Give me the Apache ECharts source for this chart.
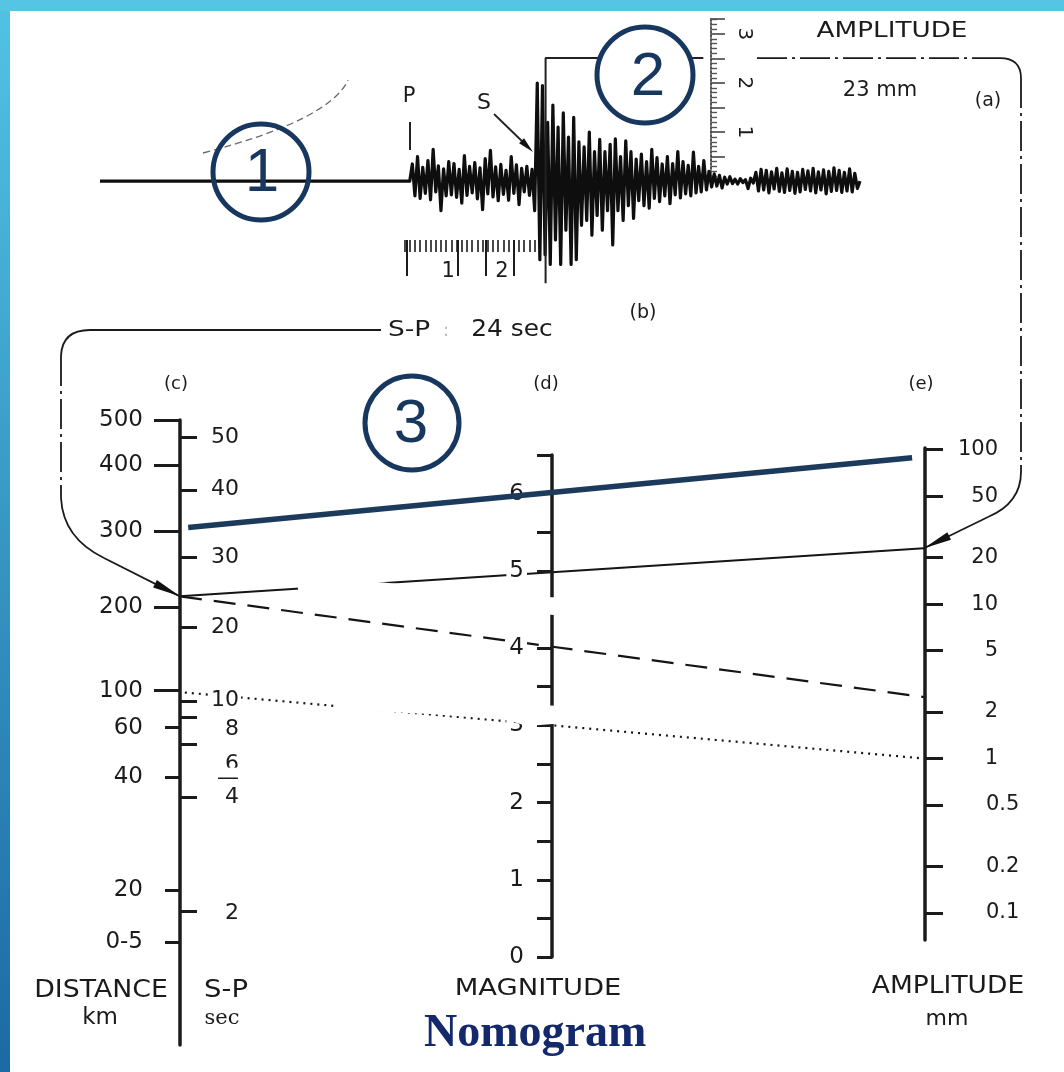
<!DOCTYPE html>
<html>
<head>
<meta charset="utf-8">
<script src="https://cdn.jsdelivr.net/npm/echarts@6/dist/echarts.min.js"></script>
<style>
html,body{margin:0;padding:0;background:#ffffff;}
#chart{width:1064px;height:1072px;}
</style>
</head>
<body>
<div id="chart"></div>
<script>
// ================= DATA =================
// (c) distance scale: labels and their Richter correction values (-log A0)
const distanceLabels = ['500','400','300','200','100','60','40','20','0-5'];
const distanceValues = [4.76, 4.47, 4.04, 3.55, 3.01, 2.77, 2.45, 1.72, 1.38];
const distanceLongTicks = [4.76, 4.47, 4.04, 3.55, 3.01];
const distanceShortTicks = [2.77, 2.45, 1.72, 1.38];
// S-P seconds written on the same axis
const spTickValues = [4.65, 4.31, 3.87, 3.42, 2.94, 2.84, 2.66, 2.32, 1.58];
const spLabels = ['50','40','30','20','10','8','6','\u2014','4','2'];
const spLabelValues = [4.65, 4.31, 3.87, 3.42, 2.95, 2.76, 2.53, 2.44, 2.32, 1.57];
// (d) magnitude scale
const magnitudeMin = 0, magnitudeMax = 6.5, magnitudeStep = 0.5;
const magnitudeLabels = [0, 1, 2, 3, 4, 5, 6];
// (e) amplitude scale, mm
const amplitudeIntTicks = [100, 50, 20, 10, 5, 2, 1];
const amplitudeDecTicks = [0.5, 0.2, 0.1];
// nomogram reading lines: correction value on (c) and amplitude on (e)
const lineDistance = [4.06, 3.62, 3.62, 3.00];
const lineAmplitude = [90, 23, 2.5, 1.0];
// (b) seismogram: trace offset in mm, one value every 0.5 s after P arrival
const traceStep = 0.5;
const traceStart = -59.5;
const traceValues = [
  0, 3.5, -3, 5, -3.5,
  2.8,-2.5,4.2,-3.8,6.5,-2.2,3.1,-6.0,2.5,-3.0,4.0,-2.8,3.6,-3.3,2.4,-4.5,5.2,-2.9,3.0,-2.4,3.8,-3.6,2.7,-5.8,4.6,-2.6,6.3,-3.2,2.9,-4.0,3.4,-2.7,2.2,-3.9,5.0,-2.5,3.3,-4.8,2.6,-2.2,3.0,-2.9,2.4,
  -6,20,-16,19.5,-15,12,-17,15.5,-12,11,-17,13.9,-10,9,-17,13,-16,8,-9,7,-8,10,-11,6,-7,8.5,-10,6,-6,7.5,-13,8.6,-6,5,-8,8.2,-5,6,-7.6,4.5,-4,5.5,-5,4,-5.5,6.5,-3.5,4.8,-4.2,3.5,-3,5,-4.6,3.6,-2.8,6,-3.4,4,-2.6,3.2,-3,5.9,-2.4,3,-2.2,4.2,-1.8,2,-1.2,1.5,-1,1.2,-1.4,0.8,-0.6,0.9,-0.5,0.4,-0.6,0.5,-0.3,0.3,-1.5,0.6,-0.4,1.8,-2,2.4,
  -1.8,2.2,-2.4,1.9,-1.6,2.6,-2.1,1.7,-2.3,2.5,-1.9,2.0,-2.5,1.8,-2.2,2.4,-1.7,2.1,-2.0,2.6,-2.4,1.9,-1.8,2.3,-2.6,2.0,-2.1,2.7,-1.9,2.2,-2.3,1.8,-2.0,2.5,-2.2,1.6,-1.5,0
];
// amplitude marker on the seismogram (s, mm)
const markerTime = 26.1, markerLow = -20.8, markerHigh = 25.1, markerEnd = 56.4;
// time ruler under the trace (s after P)
const timeRulerFrom = -1, timeRulerTo = 25;
const timeLongTicks = [-0.5, 9.3, 14.7, 19.9];
const timeLabelValues = [7.4, 17.7];
const timeLabels = ['1', '2'];
// amplitude ruler (mm) labelled in cm
const rulerLabelValues = [10, 20, 30];
const rulerLabels = ['1', '2', '3'];

// ================= SCALES / LAYOUT =================
const W = 1064, H = 1072;
const K = 2.57;               // nomogram constant: M = C + log A
const PX_PER_MAG = 77.23, MAG_ZERO_Y = 957;
const pxToMag = px => (MAG_ZERO_Y - px) / PX_PER_MAG;
const distToMag = c => 2 * c - K;
const ampToMag = a => 2 * Math.log10(a) + K;
const magToDist = m => (m + K) / 2;
const magToAmp = m => Math.pow(10, (m - K) / 2);
const DIST_TOP = 420, DIST_BOTTOM = 1045, AMP_TOP = 448, AMP_BOTTOM = 940;
const distMax = magToDist(pxToMag(DIST_TOP)), distMin = magToDist(pxToMag(DIST_BOTTOM));
const ampMax = magToAmp(pxToMag(AMP_TOP)), ampMin = magToAmp(pxToMag(AMP_BOTTOM));
const MAG_TOP = MAG_ZERO_Y - magnitudeMax * PX_PER_MAG;
const OVX = 6, OVY = 8; // overlay axes indices

function nearest(values, labels) {
  return function (v) {
    let bi = 0, bd = Infinity;
    values.forEach((x, i) => { const d = Math.abs(x - v); if (d < bd) { bd = d; bi = i; } });
    return labels[bi];
  };
}
const timeMinor = [];
for (let t = timeRulerFrom; t <= timeRulerTo; t++) timeMinor.push(t);
const magTicks = [];
for (let m = magnitudeMin; m <= magnitudeMax + 1e-9; m += magnitudeStep) magTicks.push(+m.toFixed(2));

const INK = '#1b1b1b';
const FONT = 'DejaVu Sans';
const axisLineStyle = { color: INK, width: 3.5 };
const tickStyle = { color: INK, width: 3 };

const traceData = [[traceStart, 0]].concat(traceValues.map((v, i) => [i * traceStep, v]));

const lineStyles = [
  { color: '#1c3a5b', width: 5.5, type: 'solid', from: 0.022, to: 1.968, z: 6 },
  { color: '#151515', width: 2, type: 'solid', from: 0, to: 2, z: 2 },
  { color: '#151515', width: 2.2, type: [22, 12], from: 0, to: 2, z: 2 },
  { color: '#151515', width: 2.2, type: [2, 5], from: 0.013, to: 2, z: 2 }
];
const nomoSeries = lineDistance.map((c, i) => {
  const yl = distToMag(c), yr = ampToMag(lineAmplitude[i]);
  const s = lineStyles[i];
  const at = x => [x, yl + (yr - yl) * x / 2];
  return {
    type: 'line', xAxisIndex: OVX, yAxisIndex: OVY, data: [at(s.from), at(s.to)],
    showSymbol: false, clip: false, z: s.z, silent: true,
    lineStyle: { color: s.color, width: s.width, type: s.type }
  };
});

const hidden = (gi, min, max) => ({ gridIndex: gi, type: 'value', show: false, min, max });

const option = {
  animation: false,
  backgroundColor: '#ffffff',
  title: {
    text: 'Nomogram', left: 424, top: 1011, padding: 0,
    textStyle: { fontFamily: 'Liberation Serif', fontWeight: 'bold', fontSize: 46, color: '#13296b' }
  },
  grid: [
    { left: 100, right: W - 860, top: 34, bottom: H - 240, outerBoundsMode: 'none' },
    { left: 710, right: W - 711, top: 19, bottom: H - 181, outerBoundsMode: 'none' },
    { left: 180, right: W - 181, top: DIST_TOP, bottom: H - DIST_BOTTOM, outerBoundsMode: 'none' },
    { left: 552, right: W - 553, top: MAG_TOP, bottom: H - MAG_ZERO_Y, outerBoundsMode: 'none' },
    { left: 924, right: W - 925, top: AMP_TOP, bottom: H - AMP_BOTTOM, outerBoundsMode: 'none' },
    { left: 180, right: W - 924, top: MAG_TOP, bottom: H - MAG_ZERO_Y, outerBoundsMode: 'none' }
  ],
  xAxis: [
    { gridIndex: 0, type: 'value', min: traceStart, max: 86.5, position: 'bottom',
      axisLine: { show: false, onZero: false }, splitLine: { show: false },
      axisTick: { show: true, customValues: timeMinor, length: 12, lineStyle: { color: INK, width: 1.6 } },
      axisLabel: { show: false } },
    { gridIndex: 0, type: 'value', min: traceStart, max: 86.5, position: 'bottom',
      axisLine: { show: false, onZero: false }, splitLine: { show: false },
      axisTick: { show: true, customValues: timeLongTicks, length: 36, lineStyle: { color: INK, width: 2 } },
      axisLabel: { show: true, customValues: timeLabelValues, formatter: nearest(timeLabelValues, timeLabels),
        margin: 21, fontSize: 21, fontFamily: FONT, color: INK } },
    hidden(1, 0, 1), hidden(2, 0, 1), hidden(3, 0, 1), hidden(4, 0, 1), hidden(5, 0, 2)
  ],
  yAxis: [
    { gridIndex: 0, type: 'value', show: false, min: -12, max: 30 },
    { gridIndex: 1, type: 'value', min: 0, max: (181 - 19) / 4.905, interval: 5, position: 'right',
      axisLine: { show: true, onZero: false, lineStyle: { color: '#555', width: 2, type: 'dotted' } },
      axisTick: { show: true, length: 14, lineStyle: { color: '#444', width: 1.6 } },
      minorTick: { show: true, splitNumber: 5, length: 6, lineStyle: { color: '#555', width: 1.4 } },
      splitLine: { show: false }, minorSplitLine: { show: false },
      axisLabel: { show: true, customValues: rulerLabelValues, formatter: nearest(rulerLabelValues, rulerLabels),
        rotate: -90, align: 'center', verticalAlign: 'middle', margin: 33, fontSize: 20, fontFamily: FONT, color: INK } },
    { gridIndex: 2, type: 'value', min: distMin, max: distMax, position: 'left', z: 3,
      axisLine: { show: true, onZero: false, lineStyle: axisLineStyle },
      axisTick: { show: true, customValues: distanceLongTicks, length: 26, lineStyle: tickStyle },
      splitLine: { show: false },
      axisLabel: { show: true, customValues: distanceValues, formatter: nearest(distanceValues, distanceLabels),
        margin: 37, fontSize: 23, fontFamily: FONT, color: INK } },
    { gridIndex: 2, type: 'value', min: distMin, max: distMax, position: 'left', z: 3,
      axisLine: { show: false, onZero: false },
      axisTick: { show: true, customValues: distanceShortTicks, length: 15, lineStyle: tickStyle },
      splitLine: { show: false }, axisLabel: { show: false } },
    { gridIndex: 2, type: 'value', min: distMin, max: distMax, position: 'right', z: 3,
      axisLine: { show: false, onZero: false },
      axisTick: { show: true, customValues: spTickValues, length: 16, lineStyle: tickStyle },
      splitLine: { show: false },
      axisLabel: { show: true, customValues: spLabelValues, formatter: nearest(spLabelValues, spLabels),
        align: 'right', margin: 60, fontSize: 22, fontFamily: FONT, color: INK,
        backgroundColor: '#ffffff', padding: [0, 2] } },
    { gridIndex: 3, type: 'value', min: magnitudeMin, max: magnitudeMax, position: 'left', z: 3,
      axisLine: { show: true, onZero: false, lineStyle: axisLineStyle },
      axisTick: { show: true, customValues: magTicks, length: 15, lineStyle: tickStyle },
      splitLine: { show: false },
      axisLabel: { show: true, customValues: magnitudeLabels, margin: 25, fontSize: 23, fontFamily: FONT, color: INK,
        backgroundColor: '#ffffff', padding: [0, 3] } },
    { gridIndex: 4, type: 'log', logBase: 10, min: ampMin, max: ampMax, position: 'right', z: 3,
      axisLine: { show: true, onZero: false, lineStyle: axisLineStyle },
      axisTick: { show: true, customValues: amplitudeIntTicks.concat(amplitudeDecTicks), length: 18, lineStyle: tickStyle },
      splitLine: { show: false }, minorSplitLine: { show: false },
      axisLabel: { show: true, customValues: amplitudeIntTicks, formatter: v => String(Math.round(v)),
        align: 'right', margin: 73, fontSize: 21, fontFamily: FONT, color: INK } },
    { gridIndex: 4, type: 'log', logBase: 10, min: ampMin, max: ampMax, position: 'right', z: 3,
      axisLine: { show: false, onZero: false }, axisTick: { show: false },
      splitLine: { show: false }, minorSplitLine: { show: false },
      axisLabel: { show: true, customValues: amplitudeDecTicks, formatter: nearest(amplitudeDecTicks, ['0.5','0.2','0.1']),
        align: 'left', margin: 61, fontSize: 21, fontFamily: FONT, color: INK } },
    { gridIndex: 5, type: 'value', show: false, min: magnitudeMin, max: magnitudeMax }
  ],
  series: [
    { type: 'line', xAxisIndex: 0, yAxisIndex: 0, data: traceData, showSymbol: false, clip: false, silent: true,
      lineStyle: { color: '#0e0e0e', width: 3.2, join: 'round' }, z: 2 },
    { type: 'line', xAxisIndex: 0, yAxisIndex: 0, data: [[markerTime, markerLow], [markerTime, markerHigh], [markerEnd, markerHigh]],
      showSymbol: false, clip: false, silent: true, lineStyle: { color: '#222', width: 2 }, z: 2 }
  ].concat(nomoSeries)
};

const chart = echarts.init(document.getElementById('chart'), null, { renderer: 'canvas' });
chart.setOption(option);

// ================= ANNOTATIONS (anchored through the scales) =================
const toPx = (xi, yi, pt) => chart.convertToPixel({ xAxisIndex: xi, yAxisIndex: yi }, pt);
const tipR = toPx(OVX, OVY, [2, ampToMag(lineAmplitude[1])]);
const tipL = toPx(OVX, OVY, [0, distToMag(lineDistance[1])]);
const markY = toPx(0, 0, [0, markerHigh])[1];

function arrowHead(tip, from, len, half) {
  const dx = tip[0] - from[0], dy = tip[1] - from[1], d = Math.hypot(dx, dy);
  const ux = dx / d, uy = dy / d;
  const bx = tip[0] - ux * len, by = tip[1] - uy * len;
  return { type: 'polygon', z: 30, shape: { points: [tip, [bx - uy * half, by + ux * half], [bx + uy * half, by - ux * half]] },
    style: { fill: '#111' } };
}
const STROKE = { fill: null, stroke: '#1a1a1a', lineWidth: 1.8 };
function seg(x1, y1, x2, y2, dash) {
  return { type: 'line', z: 30, shape: { x1, y1, x2, y2 }, style: Object.assign({}, STROKE, { lineDash: dash || null }) };
}
function curve(x1, y1, cx, cy, x2, y2, extra) {
  return { type: 'bezierCurve', z: 30, shape: { x1, y1, x2, y2, cpx1: cx, cpy1: cy },
    style: Object.assign({}, STROKE, extra || {}) };
}
function txt(x, y, text, size, o) {
  o = o || {};
  return { type: 'text', x, y, z: 40, scaleX: o.sx || 1, scaleY: 1,
    style: { text, fill: o.color || INK, fontSize: size, fontFamily: o.family || FONT, fontWeight: o.weight || 'normal',
      textAlign: 'center', textVerticalAlign: 'middle', align: 'center', verticalAlign: 'middle' } };
}
const DASHDOT = [30, 5, 3, 5];
const navy = '#17375e';

const g = [];
// white erasure patches of the scan
g.push({ type: 'polygon', z: 25, shape: { points: [[298,571],[377,582],[470,590],[548,597],[566,598],[566,616],[298,594]] }, style: { fill: '#ffffff' } });
g.push({ type: 'polygon', z: 25, shape: { points: [[335,699],[566,706],[566,723],[527,726],[505,719.5],[430,714],[335,709.5]] }, style: { fill: '#ffffff' } });
// left connector S-P -> distance axis
g.push(seg(381, 330, 90, 330));
g.push(curve(90, 330, 62, 330, 61, 356));
g.push(seg(61, 356, 61, 498, DASHDOT));
g.push(curve(61, 498, 63, 538, 104, 558));
g.push(seg(104, 558, tipL[0], tipL[1]));
g.push(arrowHead(tipL, [104, 558], 28, 4.2));
// right connector amplitude -> amplitude axis
g.push(seg(757, markY, 1000, markY, DASHDOT));
g.push(curve(1000, markY, 1021, markY, 1021, markY + 20));
g.push(seg(1021, markY + 20, 1021, 472, DASHDOT));
g.push(curve(1021, 472, 1021, 503, 988, 517));
g.push(seg(988, 517, tipR[0], tipR[1]));
g.push(arrowHead(tipR, [988, 517], 28, 4.2));
// P and S marks
g.push({ type: 'line', z: 30, shape: { x1: 410, y1: 122, x2: 410, y2: 150 }, style: { stroke: '#222', lineWidth: 2 } });
g.push({ type: 'line', z: 30, shape: { x1: 494, y1: 114, x2: 526, y2: 145 }, style: { stroke: '#222', lineWidth: 1.8 } });
g.push(arrowHead([533, 152], [494, 114], 16, 3.5));
// faint dashed arc at top left
g.push(curve(203, 153, 330, 120, 348, 80, { stroke: '#6a6a6a', lineWidth: 1.3, lineDash: [7, 4] }));
// numbered circles
g.push({ type: 'circle', z: 35, shape: { cx: 261, cy: 172, r: 48 }, style: { fill: null, stroke: navy, lineWidth: 5 } });
g.push({ type: 'circle', z: 35, shape: { cx: 645, cy: 75, r: 48 }, style: { fill: '#ffffff', stroke: navy, lineWidth: 5 } });
g.push({ type: 'circle', z: 35, shape: { cx: 412, cy: 423, r: 47 }, style: { fill: null, stroke: navy, lineWidth: 5 } });
g.push(txt(262, 174, '1', 62, { color: navy, family: 'Liberation Sans' }));
g.push(txt(648, 78, '2', 62, { color: navy, family: 'Liberation Sans' }));
g.push(txt(411, 425, '3', 62, { color: navy, family: 'Liberation Sans' }));
// texts
g.push(txt(892, 32, 'AMPLITUDE', 21, { sx: 1.25 }));
g.push(txt(880, 91, '23 mm', 21));
g.push(txt(988, 101, '(a)', 19));
g.push(txt(409, 97, 'P', 21));
g.push(txt(484, 103, 'S', 22));
g.push(txt(643, 313, '(b)', 19));
g.push(txt(409, 330, 'S-P', 22, { sx: 1.2 }));
g.push(txt(446, 331, ':', 18, { color: '#bbbbbb' }));
g.push(txt(512, 330, '24 sec', 23, { sx: 1.08 }));
g.push(txt(176, 384, '(c)', 18));
g.push(txt(546, 384, '(d)', 18));
g.push(txt(921, 384, '(e)', 18));
g.push(txt(101, 990, 'DISTANCE', 25, { sx: 1.07 }));
g.push(txt(100, 1018, 'km', 23));
g.push(txt(226, 990, 'S-P', 25, { sx: 1.1 }));
g.push(txt(222, 1019, 'sec', 21, { family: 'DejaVu Serif' }));
g.push(txt(538, 989, 'MAGNITUDE', 23, { sx: 1.19 }));
g.push(txt(948, 986, 'AMPLITUDE', 25, { sx: 1.06 }));
g.push(txt(947, 1019, 'mm', 22));
// blue frame of the slide
g.push({ type: 'rect', z: 50, shape: { x: 0, y: 0, width: 10, height: H },
  style: { fill: new echarts.graphic.LinearGradient(0, 0, 0, 1, [{ offset: 0, color: '#52c3e3' }, { offset: 1, color: '#1c6aa4' }]) } });
g.push({ type: 'rect', z: 50, shape: { x: 0, y: 0, width: W, height: 11 }, style: { fill: '#56c5e4' } });

chart.setOption({ graphic: { elements: g } });
</script>
</body>
</html>
